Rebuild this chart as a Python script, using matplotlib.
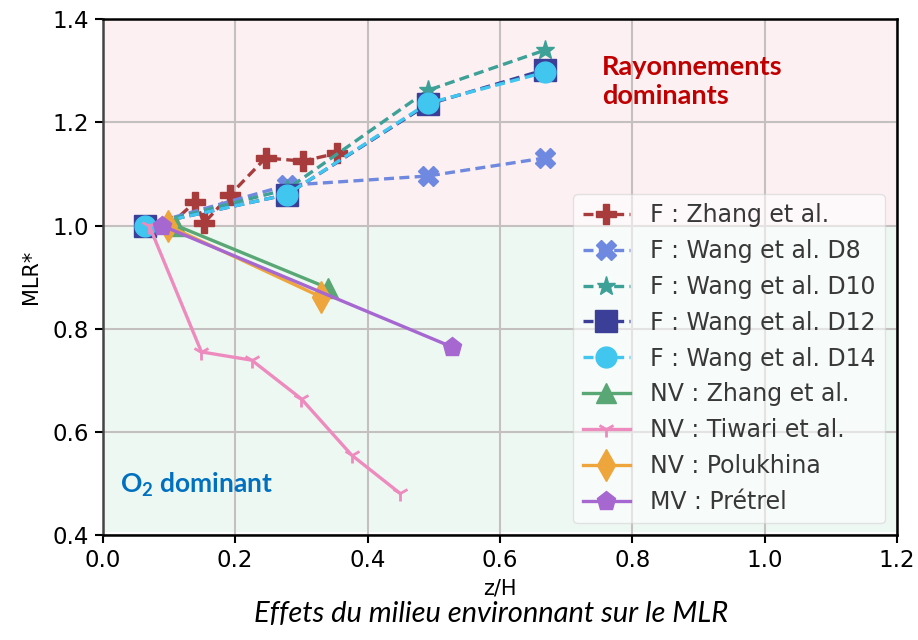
import matplotlib
matplotlib.use('Agg')
import matplotlib.pyplot as plt

# z/H and normalised MLR for each campaign
zhang_f_x = [0.10, 0.14, 0.153, 0.192, 0.246, 0.302, 0.354]
zhang_f_y = [1.0, 1.046, 1.005, 1.059, 1.131, 1.125, 1.14]

wang_x = [0.063, 0.278, 0.491, 0.668]
wang_d8_y = [1.0, 1.078, 1.096, 1.131]
wang_d10_y = [1.0, 1.07, 1.262, 1.34]
wang_d12_y = [1.0, 1.06, 1.235, 1.302]
wang_d14_y = [1.0, 1.06, 1.237, 1.297]

zhang_nv_x = [0.111, 0.34]
zhang_nv_y = [1.0, 0.879]
tiwari_x = [0.07, 0.149, 0.225, 0.30, 0.376, 0.449]
tiwari_y = [1.0, 0.755, 0.739, 0.664, 0.555, 0.481]
polukhina_x = [0.098, 0.329]
polukhina_y = [1.0, 0.862]
pretrel_x = [0.089, 0.527]
pretrel_y = [1.0, 0.765]

xticks = [0.0, 0.2, 0.4, 0.6, 0.8, 1.0, 1.2]
yticks = [0.4, 0.6, 0.8, 1.0, 1.2, 1.4]


def main():
    plt.rcParams['mathtext.default'] = 'regular'
    fig = plt.figure(figsize=(9.18, 6.4), dpi=100)
    ax = fig.add_axes([0.112, 0.164, 0.865, 0.806])

    ax.axhspan(1.0, 1.4, color='#fcf0f2', zorder=0.1, lw=0)
    ax.axhspan(0.405, 1.0, color='#eef8f2', zorder=0.1, lw=0)

    dash = dict(ls='--', lw=2.4, dashes=(3.0, 1.6))
    ax.plot(zhang_f_x, zhang_f_y, color='#a83c3c', marker='P', ms=14,
            mec='#a83c3c', label='F : Zhang et al.', **dash)
    ax.plot(wang_x, wang_d8_y, color='#7089e0', marker='X', ms=14,
            mec='#7089e0', label='F : Wang et al. D8', **dash)
    ax.plot(wang_x, wang_d10_y, color='#3da198', marker='*', ms=14,
            mec='#3da198', label='F : Wang et al. D10', **dash)
    ax.plot(wang_x, wang_d12_y, color='#3b3f98', marker='s', ms=16,
            mec='#3b3f98', label='F : Wang et al. D12', **dash)
    ax.plot(wang_x, wang_d14_y, color='#40c6ef', marker='o', ms=15,
            mec='#40c6ef', label='F : Wang et al. D14', **dash)

    solid = dict(ls='-', lw=2.4)
    ax.plot(zhang_nv_x, zhang_nv_y, color='#59a775', marker='^', ms=14,
            mec='#59a775', label='NV : Zhang et al.', **solid)
    ax.plot(tiwari_x, tiwari_y, color='#ee8bbe', marker='1', ms=12, mew=2,
            label='NV : Tiwari et al.', **solid)
    ax.plot(polukhina_x, polukhina_y, color='#eea63c', marker='d', ms=16,
            mec='#eea63c', label='NV : Polukhina', **solid)
    ax.plot(pretrel_x, pretrel_y, color='#a667d1', marker='p', ms=14,
            mec='#a667d1', label='MV : Prétrel', **solid)

    ax.set_xlim(0, 1.2)
    ax.set_ylim(0.4, 1.4)
    ax.set_xticks(xticks)
    ax.set_yticks(yticks)
    ax.tick_params(labelsize=16.5, length=6, width=1.5, pad=4,
                   colors='black')
    ax.grid(True, color='#c4c0c0', lw=1.5)
    ax.set_axisbelow(True)
    for s in ax.spines.values():
        s.set_linewidth(1.8)
        s.set_color('black')
    ax.spines['left'].set_color('#444444')

    ax.set_xlabel('z/H', fontsize=15, labelpad=5)
    ax.set_ylabel('MLR*', fontsize=15, labelpad=8)

    ax.text(0.754, 1.33, 'Rayonnements\ndominants', color='#c00000',
            fontsize=19.5, fontweight='bold', family='Lato', va='top',
            linespacing=1.25)
    ax.text(0.026, 0.481, 'O$_2$ dominant', color='#0070c0', fontsize=19,
            fontweight='bold', family='Lato', va='baseline')

    leg = ax.legend(loc='lower right', fontsize=17, labelspacing=0.5,
                    borderaxespad=0.5, framealpha=0.55, handlelength=2.0,
                    handletextpad=0.85, borderpad=0.4, edgecolor='#d0d0d0')
    for t in leg.get_texts():
        t.set_color('#383838')

    fig.text(0.535, 0.028, 'Effets du milieu environnant sur le MLR',
             ha='center', va='baseline', fontsize=21, style='italic',
             family='Lato')

    fig.savefig('out.png', dpi=100)
    plt.close(fig)


if __name__ == '__main__':
    main()
